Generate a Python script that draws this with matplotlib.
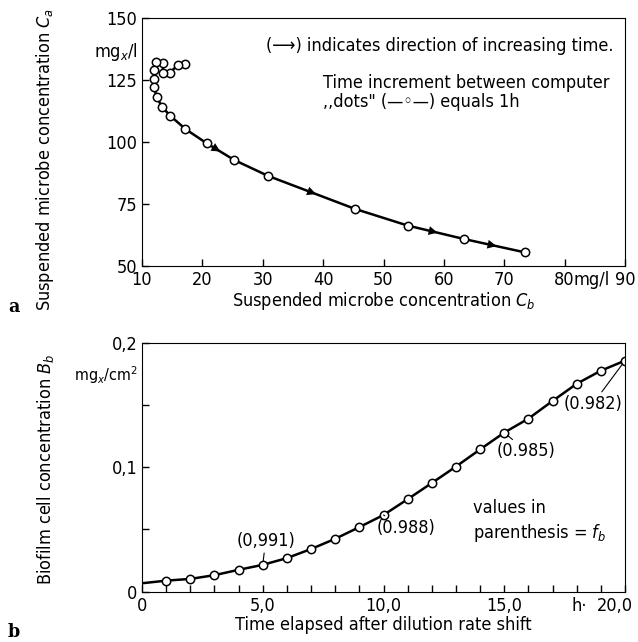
import matplotlib.pyplot as plt
from matplotlib import transforms

plt.rcParams['font.family'] = 'DejaVu Sans'
plt.rcParams['font.stretch'] = 'condensed'
plt.rcParams['mathtext.fontset'] = 'custom'
plt.rcParams['mathtext.rm'] = 'DejaVu Sans:stretch=condensed'
plt.rcParams['mathtext.it'] = 'DejaVu Sans:italic:stretch=condensed'

# panel a: trajectory Ca vs Cb (one dot per hour)
cb = [17.2, 15.9, 14.6, 13.5, 13.4, 12.3, 12.0, 12.0, 12.0, 12.4,
      13.3, 14.7, 17.2, 20.7, 25.3, 30.9, 45.3, 54.0, 63.3, 73.4]
ca = [131.5, 130.9, 128.0, 128.0, 132.0, 132.4, 129.0, 125.5, 122.1, 118.3,
      114.2, 110.5, 105.2, 99.5, 92.7, 86.3, 73.0, 66.3, 60.9, 55.5]
arrow_segments = [13, 15, 17, 18]

# panel b: biofilm concentration vs time
t_h = list(range(0, 21))
bb = [0.0068, 0.0089, 0.0103, 0.0133, 0.0176, 0.0216, 0.0270, 0.0343, 0.0425,
      0.0519, 0.0616, 0.0743, 0.0873, 0.1005, 0.1143, 0.1278, 0.1390, 0.1532,
      0.1670, 0.1775, 0.1856]
fb_hours = [5, 10, 15, 20]
fb_labels = ['(0,991)', '(0.988)', '(0.985)', '(0.982)']
fb_offsets = [(2, 17), (16, -9), (16, -13.5), (-23, -31)]

fig = plt.figure(figsize=(6.38, 6.42), dpi=100)
ax1 = fig.add_axes([0.2226, 0.5857, 0.757, 0.3863])
ax2 = fig.add_axes([0.2226, 0.0783, 0.757, 0.3879])

fs = 13

# --- panel a ---
ax1.plot(cb, ca, color='black', lw=1.8, marker='o', ms=6, mfc='white', mec='black', mew=1.1)
for i in arrow_segments:
    x0, y0, x1, y1 = cb[i], ca[i], cb[i + 1], ca[i + 1]
    tail = (x0 + 0.3 * (x1 - x0), y0 + 0.3 * (y1 - y0))
    tip = (x0 + 0.58 * (x1 - x0), y0 + 0.58 * (y1 - y0))
    ax1.annotate('', xy=tip, xytext=tail,
                 arrowprops=dict(arrowstyle='-|>', color='black', lw=0, mutation_scale=16))
ax1.set_xlim(10, 90)
ax1.set_ylim(50, 150)
ax1.set_xticks([10, 20, 30, 40, 50, 60, 70, 80, 90])
ax1.set_yticks([50, 75, 100, 125, 150])
ax1.tick_params(direction='in', length=5, labelsize=fs, width=1)
ax1.text(81.4, -0.02, 'mg/l', transform=ax1.get_xaxis_transform(), fontsize=fs, ha='left', va='top')
ax1.text(-0.008, 0.863, r'mg$_x$/l', transform=ax1.transAxes, fontsize=fs, ha='right', va='center')
ax1.set_xlabel(r'Suspended microbe concentration $C_b$', fontsize=fs, labelpad=1)
ax1.set_ylabel(r'Suspended microbe concentration $C_a$', fontsize=fs)
ax1.yaxis.set_label_coords(-0.178, 0.43)
ax1.text(0.257, 0.887, '(\u27f6) indicates direction of increasing time.', transform=ax1.transAxes,
         fontsize=fs, ha='left', va='center')
ax1.text(0.375, 0.738, 'Time increment between computer', transform=ax1.transAxes,
         fontsize=fs, ha='left', va='center')
ax1.text(0.375, 0.66, ',,dots" (\u2014\u25e6\u2014) equals 1h', transform=ax1.transAxes,
         fontsize=fs, ha='left', va='center')
fig.text(0.022, 0.522, 'a', fontsize=14, fontweight='bold', family='DejaVu Serif', ha='center', va='center')

# --- panel b ---
ax2.plot(t_h, bb, color='black', lw=1.8, marker='o', ms=6, mfc='white', mec='black', mew=1.1,
         markevery=list(range(1, 21)))
for h, lab, off in zip(fb_hours, fb_labels, fb_offsets):
    ax2.annotate(lab, xy=(t_h[h], bb[h]), xytext=off, textcoords='offset points',
                 fontsize=fs, ha='center', va='center',
                 arrowprops=dict(arrowstyle='-', color='black', lw=0.8, shrinkA=0, shrinkB=3))
ax2.set_xlim(0, 20)
ax2.set_ylim(0, 0.2)
ax2.set_xticks([0, 5, 10, 15, 20])
ax2.set_xticklabels(['0', '5,0', '10,0', '15,0', '20,0'])
ax2.set_xticks(range(0, 21), minor=True)
ax2.set_yticks([0, 0.1, 0.2])
ax2.set_yticklabels(['0', '0,1', '0,2'])
ax2.set_yticks([0.05, 0.15], minor=True)
ax2.tick_params(which='both', direction='in', length=5, labelsize=fs, width=1)
# last tick label sits a little left of its tick, as in the original
last = ax2.get_xticklabels()[-1]
last.set_transform(last.get_transform() + transforms.ScaledTranslation(-7 / 72, 0, fig.dpi_scale_trans))
ax2.text(18.1, -0.02, 'h\u00b7', transform=ax2.get_xaxis_transform(), fontsize=fs, ha='center', va='top')
ax2.text(-0.008, 0.87, r'mg$_x$/cm$^2$', transform=ax2.transAxes, fontsize=11.5, ha='right', va='center')
ax2.text(13.7, 0.0565, 'values in\nparenthesis = $f_b$', fontsize=fs, ha='left', va='center', linespacing=1.3)
ax2.set_xlabel('Time elapsed after dilution rate shift', fontsize=fs, labelpad=1)
ax2.set_ylabel(r'Biofilm cell concentration $B_b$', fontsize=fs)
ax2.yaxis.set_label_coords(-0.178, 0.49)
fig.text(0.022, 0.016, 'b', fontsize=14, fontweight='bold', family='DejaVu Serif', ha='center', va='center')

fig.savefig('out.png', dpi=100)
